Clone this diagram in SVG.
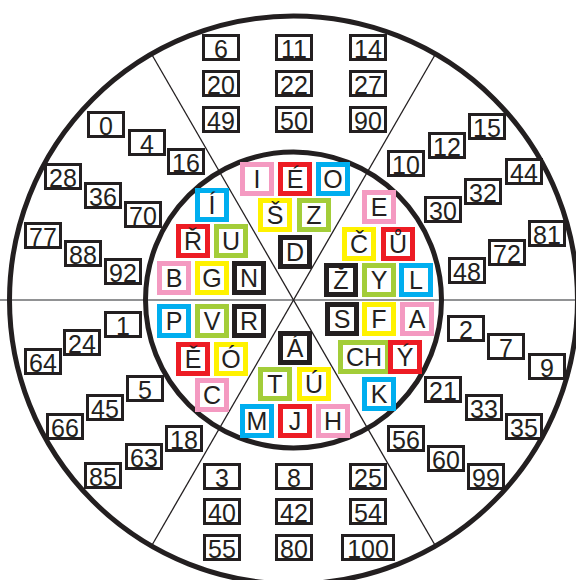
<svg xmlns="http://www.w3.org/2000/svg" width="576" height="580" viewBox="0 0 576 580">
<style>
.ring{fill:none;stroke:#231F20;stroke-width:5}
.div{stroke:#231F20;stroke-width:1.3}
.hdiv{stroke:#6d6e71;stroke-width:1.6}
.nb{fill:#fff;stroke:#231F20;stroke-width:3}
.nt{font-family:"Liberation Sans",Arial,sans-serif;font-size:25px;fill:#231F20;text-anchor:middle}
.lb{fill:#fff;stroke-width:5}
.lt{font-family:"Liberation Sans",Arial,sans-serif;font-size:25px;fill:#231F20;text-anchor:middle}
.pk{stroke:#F49AC1}.rd{stroke:#ED1C24}.ye{stroke:#FFF200}.gr{stroke:#A3CD39}.bl{stroke:#00AEEF}.bk{stroke:#231F20}
</style>
<rect width="576" height="580" fill="#fff"/>
<g id="dividers">
<line class="hdiv" x1="0" y1="300" x2="576" y2="300"/>
<line class="div" x1="151.5" y1="54" x2="435.5" y2="546"/>
<line class="div" x1="435.5" y1="54" x2="151.5" y2="546"/>
</g>
<g id="rings">
<circle class="ring" cx="293.5" cy="300" r="284"/>
<circle class="ring" cx="293.5" cy="300" r="148"/>
</g>
<g id="numbers">
<g id="n6"><rect class="nb" x="203.5" y="35.5" width="35" height="24"/><text class="nt" x="221" y="57.5">6</text></g>
<g id="n20"><rect class="nb" x="203.5" y="71.5" width="35" height="24"/><text class="nt" x="221" y="93.5">20</text></g>
<g id="n49"><rect class="nb" x="203.5" y="107.5" width="35" height="24"/><text class="nt" x="221" y="129.5">49</text></g>
<g id="n11"><rect class="nb" x="276.5" y="35.5" width="35" height="24"/><text class="nt" x="294" y="57.5">11</text></g>
<g id="n22"><rect class="nb" x="276.5" y="71.5" width="35" height="24"/><text class="nt" x="294" y="93.5">22</text></g>
<g id="n50"><rect class="nb" x="276.5" y="107.5" width="35" height="24"/><text class="nt" x="294" y="129.5">50</text></g>
<g id="n14"><rect class="nb" x="350.5" y="35.5" width="35" height="24"/><text class="nt" x="368" y="57.5">14</text></g>
<g id="n27"><rect class="nb" x="350.5" y="71.5" width="35" height="24"/><text class="nt" x="368" y="93.5">27</text></g>
<g id="n90"><rect class="nb" x="350.5" y="107.5" width="35" height="24"/><text class="nt" x="368" y="129.5">90</text></g>

<g id="n3"><rect class="nb" x="204.5" y="464.5" width="35" height="24"/><text class="nt" x="222" y="486.5">3</text></g>
<g id="n40"><rect class="nb" x="204.5" y="499.5" width="35" height="24"/><text class="nt" x="222" y="521.5">40</text></g>
<g id="n55"><rect class="nb" x="204.5" y="535.5" width="35" height="24"/><text class="nt" x="222" y="557.5">55</text></g>
<g id="n8"><rect class="nb" x="276.5" y="464.5" width="35" height="24"/><text class="nt" x="294" y="486.5">8</text></g>
<g id="n42"><rect class="nb" x="276.5" y="499.5" width="35" height="24"/><text class="nt" x="294" y="521.5">42</text></g>
<g id="n80"><rect class="nb" x="276.5" y="535.5" width="35" height="24"/><text class="nt" x="294" y="557.5">80</text></g>
<g id="n25"><rect class="nb" x="350.5" y="464.5" width="35" height="24"/><text class="nt" x="368" y="486.5">25</text></g>
<g id="n54"><rect class="nb" x="350.5" y="499.5" width="35" height="24"/><text class="nt" x="368" y="521.5">54</text></g>
<g id="n100"><rect class="nb" x="342.5" y="535.5" width="51" height="24"/><text class="nt" x="368" y="557.5">100</text></g>

<g id="n0"><rect class="nb" x="88.5" y="112.5" width="35" height="24"/><text class="nt" x="106" y="134.5">0</text></g>
<g id="n4"><rect class="nb" x="129.5" y="130.5" width="35" height="24"/><text class="nt" x="147" y="152.5">4</text></g>
<g id="n16"><rect class="nb" x="168.5" y="149.5" width="35" height="24"/><text class="nt" x="186" y="171.5">16</text></g>
<g id="n28"><rect class="nb" x="45.5" y="164.5" width="35" height="24"/><text class="nt" x="63" y="186.5">28</text></g>
<g id="n36"><rect class="nb" x="85.5" y="183.5" width="35" height="24"/><text class="nt" x="103" y="205.5">36</text></g>
<g id="n70"><rect class="nb" x="125.5" y="202.5" width="35" height="24"/><text class="nt" x="143" y="224.5">70</text></g>
<g id="n77"><rect class="nb" x="25.5" y="223.5" width="35" height="24"/><text class="nt" x="43" y="245.5">77</text></g>
<g id="n88"><rect class="nb" x="65.5" y="241.5" width="35" height="24"/><text class="nt" x="83" y="263.5">88</text></g>
<g id="n92"><rect class="nb" x="105.5" y="259.5" width="35" height="24"/><text class="nt" x="123" y="281.5">92</text></g>

<g id="n15"><rect class="nb" x="469.5" y="114.5" width="35" height="24"/><text class="nt" x="487" y="136.5">15</text></g>
<g id="n12"><rect class="nb" x="429.5" y="133.5" width="35" height="24"/><text class="nt" x="447" y="155.5">12</text></g>
<g id="n10"><rect class="nb" x="388.5" y="151.5" width="35" height="24"/><text class="nt" x="406" y="173.5">10</text></g>
<g id="n44"><rect class="nb" x="506.5" y="159.5" width="35" height="24"/><text class="nt" x="524" y="181.5">44</text></g>
<g id="n32"><rect class="nb" x="465.5" y="179.5" width="35" height="24"/><text class="nt" x="483" y="201.5">32</text></g>
<g id="n30"><rect class="nb" x="425.5" y="197.5" width="35" height="24"/><text class="nt" x="443" y="219.5">30</text></g>
<g id="n81"><rect class="nb" x="529.5" y="221.5" width="35" height="24"/><text class="nt" x="547" y="243.5">81</text></g>
<g id="n72"><rect class="nb" x="489.5" y="240.5" width="35" height="24"/><text class="nt" x="507" y="262.5">72</text></g>
<g id="n48"><rect class="nb" x="449.5" y="258.5" width="35" height="24"/><text class="nt" x="467" y="280.5">48</text></g>

<g id="n1"><rect class="nb" x="105.5" y="312.5" width="35" height="24"/><text class="nt" x="123" y="334.5">1</text></g>
<g id="n24"><rect class="nb" x="64.5" y="330.5" width="35" height="24"/><text class="nt" x="82" y="352.5">24</text></g>
<g id="n64"><rect class="nb" x="25.5" y="349.5" width="35" height="24"/><text class="nt" x="43" y="371.5">64</text></g>
<g id="n5"><rect class="nb" x="127.5" y="376.5" width="35" height="24"/><text class="nt" x="145" y="398.5">5</text></g>
<g id="n45"><rect class="nb" x="87.5" y="395.5" width="35" height="24"/><text class="nt" x="105" y="417.5">45</text></g>
<g id="n66"><rect class="nb" x="47.5" y="414.5" width="35" height="24"/><text class="nt" x="65" y="436.5">66</text></g>
<g id="n18"><rect class="nb" x="166.5" y="426.5" width="35" height="24"/><text class="nt" x="184" y="448.5">18</text></g>
<g id="n63"><rect class="nb" x="126.5" y="444.5" width="35" height="24"/><text class="nt" x="144" y="466.5">63</text></g>
<g id="n85"><rect class="nb" x="85.5" y="463.5" width="35" height="24"/><text class="nt" x="103" y="485.5">85</text></g>

<g id="n2"><rect class="nb" x="448.5" y="316.5" width="35" height="24"/><text class="nt" x="466" y="338.5">2</text></g>
<g id="n7"><rect class="nb" x="488.5" y="334.5" width="35" height="24"/><text class="nt" x="506" y="356.5">7</text></g>
<g id="n9"><rect class="nb" x="529.5" y="354.5" width="35" height="24"/><text class="nt" x="547" y="376.5">9</text></g>
<g id="n21"><rect class="nb" x="425.5" y="377.5" width="35" height="24"/><text class="nt" x="443" y="399.5">21</text></g>
<g id="n33"><rect class="nb" x="466.5" y="395.5" width="35" height="24"/><text class="nt" x="484" y="417.5">33</text></g>
<g id="n35"><rect class="nb" x="506.5" y="414.5" width="35" height="24"/><text class="nt" x="524" y="436.5">35</text></g>
<g id="n56"><rect class="nb" x="388.5" y="426.5" width="35" height="24"/><text class="nt" x="406" y="448.5">56</text></g>
<g id="n60"><rect class="nb" x="428.5" y="446.5" width="35" height="24"/><text class="nt" x="446" y="468.5">60</text></g>
<g id="n99"><rect class="nb" x="468.5" y="464.5" width="35" height="24"/><text class="nt" x="486" y="486.5">99</text></g>
</g>
<g id="letters">
<g id="l-I-acute"><rect class="lb bl" x="197.5" y="190.5" width="29" height="29"/><text class="lt" x="212" y="214">Í</text></g>
<g id="l-R-caron"><rect class="lb rd" x="178.5" y="226.5" width="29" height="29"/><text class="lt" x="193" y="250">Ř</text></g>
<g id="l-U"><rect class="lb gr" x="216.5" y="226.5" width="29" height="29"/><text class="lt" x="231" y="250">U</text></g>
<g id="l-B"><rect class="lb pk" x="159.5" y="263.5" width="29" height="29"/><text class="lt" x="174" y="287">B</text></g>
<g id="l-G"><rect class="lb ye" x="197.5" y="263.5" width="29" height="29"/><text class="lt" x="212" y="287">G</text></g>
<g id="l-N"><rect class="lb bk" x="234.5" y="263.5" width="29" height="29"/><text class="lt" x="249" y="287">N</text></g>
<g id="l-I"><rect class="lb pk" x="242.5" y="164.5" width="29" height="29"/><text class="lt" x="257" y="188">I</text></g>
<g id="l-E-acute"><rect class="lb rd" x="280.5" y="164.5" width="29" height="29"/><text class="lt" x="295" y="188">É</text></g>
<g id="l-O"><rect class="lb bl" x="318.5" y="164.5" width="29" height="29"/><text class="lt" x="333" y="188">O</text></g>
<g id="l-S-caron"><rect class="lb ye" x="260.5" y="200.5" width="29" height="29"/><text class="lt" x="275" y="224">Š</text></g>
<g id="l-Z"><rect class="lb gr" x="299.5" y="200.5" width="29" height="29"/><text class="lt" x="314" y="224">Z</text></g>
<g id="l-D"><rect class="lb bk" x="280.5" y="237.5" width="29" height="29"/><text class="lt" x="295" y="261">D</text></g>
<g id="l-E"><rect class="lb pk" x="364.5" y="192.5" width="29" height="29"/><text class="lt" x="379" y="216">E</text></g>
<g id="l-C-caron"><rect class="lb ye" x="344.5" y="229.5" width="29" height="29"/><text class="lt" x="359" y="253">Č</text></g>
<g id="l-U-ring"><rect class="lb rd" x="383.5" y="229.5" width="29" height="29"/><text class="lt" x="398" y="253">Ů</text></g>
<g id="l-Z-caron"><rect class="lb bk" x="326.5" y="265.5" width="29" height="29"/><text class="lt" x="341" y="289">Ž</text></g>
<g id="l-Y"><rect class="lb gr" x="364.5" y="265.5" width="29" height="29"/><text class="lt" x="379" y="289">Y</text></g>
<g id="l-L"><rect class="lb bl" x="401.5" y="265.5" width="29" height="29"/><text class="lt" x="416" y="289">L</text></g>
<g id="l-P"><rect class="lb bl" x="159.5" y="306.5" width="29" height="29"/><text class="lt" x="174" y="330">P</text></g>
<g id="l-V"><rect class="lb gr" x="197.5" y="306.5" width="29" height="29"/><text class="lt" x="212" y="330">V</text></g>
<g id="l-R"><rect class="lb bk" x="234.5" y="306.5" width="29" height="29"/><text class="lt" x="249" y="330">R</text></g>
<g id="l-E-caron"><rect class="lb rd" x="178.5" y="344.5" width="29" height="29"/><text class="lt" x="193" y="368">Ě</text></g>
<g id="l-O-acute"><rect class="lb ye" x="216.5" y="344.5" width="29" height="29"/><text class="lt" x="231" y="368">Ó</text></g>
<g id="l-C"><rect class="lb pk" x="197.5" y="380.5" width="29" height="29"/><text class="lt" x="212" y="404">C</text></g>
<g id="l-A-acute"><rect class="lb bk" x="280.5" y="333.5" width="29" height="29"/><text class="lt" x="295" y="357">Á</text></g>
<g id="l-T"><rect class="lb gr" x="260.5" y="369.5" width="29" height="29"/><text class="lt" x="275" y="393">T</text></g>
<g id="l-U-acute"><rect class="lb ye" x="299.5" y="369.5" width="29" height="29"/><text class="lt" x="314" y="393">Ú</text></g>
<g id="l-M"><rect class="lb bl" x="242.5" y="406.5" width="29" height="29"/><text class="lt" x="257" y="430">M</text></g>
<g id="l-J"><rect class="lb rd" x="280.5" y="406.5" width="29" height="29"/><text class="lt" x="295" y="430">J</text></g>
<g id="l-H"><rect class="lb pk" x="318.5" y="406.5" width="29" height="29"/><text class="lt" x="333" y="430">H</text></g>
<g id="l-S"><rect class="lb bk" x="327.5" y="304.5" width="29" height="29"/><text class="lt" x="342" y="328">S</text></g>
<g id="l-F"><rect class="lb ye" x="364.5" y="304.5" width="29" height="29"/><text class="lt" x="379" y="328">F</text></g>
<g id="l-A"><rect class="lb pk" x="402.5" y="304.5" width="29" height="29"/><text class="lt" x="417" y="328">A</text></g>
<g id="l-CH"><rect class="lb gr" x="340.5" y="342.5" width="47" height="29"/><text class="lt" x="364" y="366">CH</text></g>
<g id="l-Y-acute"><rect class="lb rd" x="390.5" y="342.5" width="29" height="29"/><text class="lt" x="405" y="366">Ý</text></g>
<g id="l-K"><rect class="lb bl" x="364.5" y="379.5" width="29" height="29"/><text class="lt" x="379" y="403">K</text></g>
</g>
</svg>
